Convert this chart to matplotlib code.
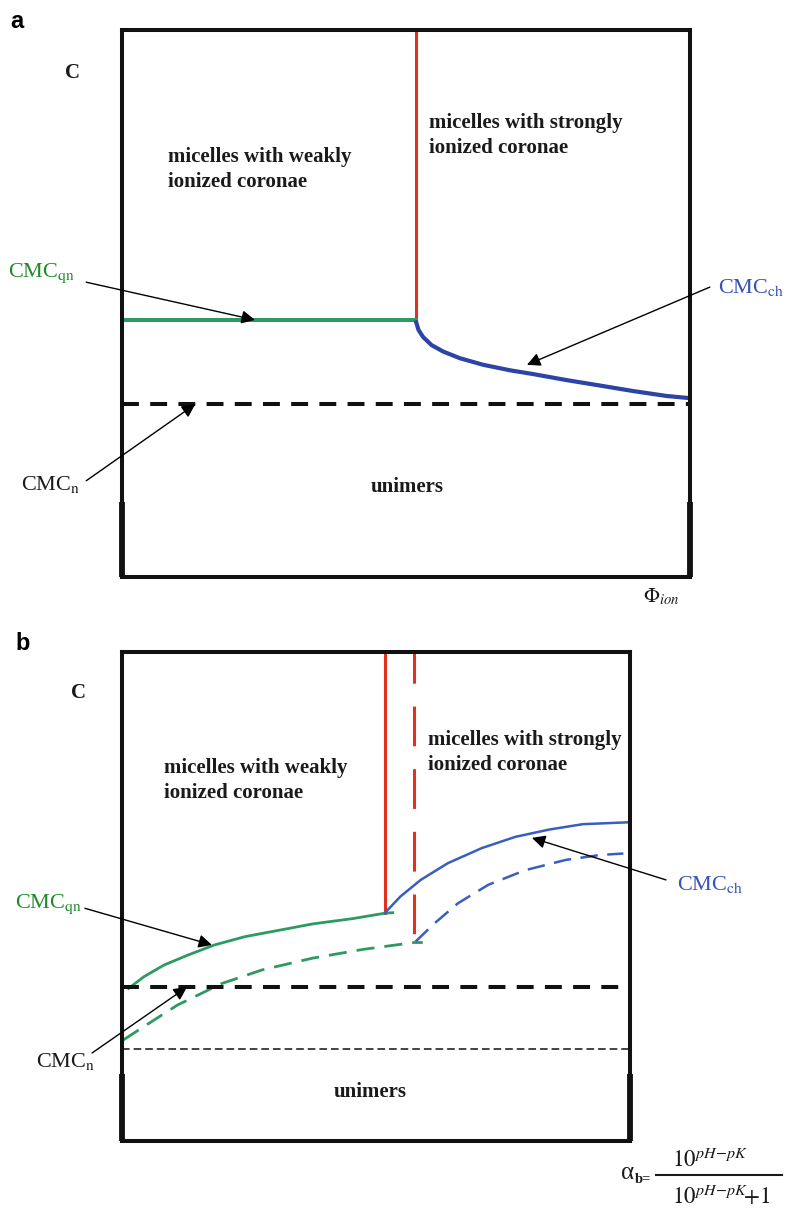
import matplotlib
matplotlib.use('Agg')
import matplotlib.pyplot as plt
from matplotlib.lines import Line2D

plt.rcParams['font.family'] = ['Liberation Serif', 'DejaVu Serif']
plt.rcParams['mathtext.fontset'] = 'stix'

# ---- data (fractions of the box: x = Phi_ion / alpha_b, y = C) ----
# panel a
a_boundary_x = 0.518
a_cmc_qn = 0.470
a_cmc_n = 0.316
a_ch_x = [0.517, 0.522, 0.530, 0.545, 0.566, 0.595, 0.636, 0.683, 0.724, 0.783, 0.842, 0.900, 0.959, 1.0]
a_ch_y = [0.469, 0.452, 0.439, 0.424, 0.412, 0.400, 0.388, 0.378, 0.371, 0.360, 0.350, 0.340, 0.331, 0.327]

# panel b
b_boundary_x = 0.518
b_boundary_dash_x = 0.575
b_qn_x = [0.013, 0.043, 0.083, 0.129, 0.182, 0.242, 0.309, 0.375, 0.455, 0.518, 0.533]
b_qn_y = [0.312, 0.336, 0.360, 0.380, 0.401, 0.418, 0.431, 0.444, 0.455, 0.466, 0.467]
b_qn2_x = [0.003, 0.043, 0.109, 0.196, 0.276, 0.375, 0.475, 0.575, 0.592]
b_qn2_y = [0.207, 0.234, 0.278, 0.322, 0.350, 0.374, 0.392, 0.406, 0.406]
b_ch_x = [0.518, 0.548, 0.588, 0.641, 0.708, 0.774, 0.841, 0.907, 1.0]
b_ch_y = [0.467, 0.500, 0.534, 0.568, 0.599, 0.622, 0.637, 0.648, 0.652]
b_ch2_x = [0.578, 0.615, 0.661, 0.721, 0.794, 0.874, 0.941, 0.987]
b_ch2_y = [0.408, 0.445, 0.486, 0.524, 0.554, 0.575, 0.585, 0.588]
b_cmc_n = 0.315
b_cmc_n2 = 0.188

RED = '#e0301e'
GREEN = '#2e9a62'
BLUE_A = '#2c44a6'
BLUE_B = '#3a5ec0'
GREEN_TXT = '#1f8a2a'
BLUE_TXT = '#3552b4'
INK = '#1a1a1a'

fig = plt.figure(figsize=(7.86, 12.10), dpi=100)
ax_a = fig.add_axes([0.1552, 0.5231, 0.7226, 0.4521])
ax_b = fig.add_axes([0.1552, 0.0570, 0.6463, 0.4041])

for ax in (ax_a, ax_b):
    ax.set_xlim(0, 1)
    ax.set_ylim(0, 1)
    ax.set_xticks([])
    ax.set_yticks([])
    for s in ax.spines.values():
        s.set_linewidth(2.9)
        s.set_color('#111111')
    # slightly thicker lower parts of the side walls
    ax.plot([0, 0], [0, 0.137], color='#111111', lw=4.2, clip_on=False, solid_capstyle='butt')
    ax.plot([1, 1], [0, 0.137], color='#111111', lw=4.2, clip_on=False, solid_capstyle='butt')

bold = dict(fontsize=15, fontweight='bold', color=INK)
arrow = dict(arrowstyle='-|>', color='black', lw=1.0, mutation_scale=20, shrinkA=0, shrinkB=0)

# ---------------- panel a ----------------
ax_a.plot([a_boundary_x, a_boundary_x], [a_cmc_qn, 1], color=RED, lw=2.2)
ax_a.plot([0, a_boundary_x], [a_cmc_qn, a_cmc_qn], color=GREEN, lw=2.9)
ax_a.plot(a_ch_x, a_ch_y, color=BLUE_A, lw=3.0, solid_capstyle='butt', solid_joinstyle='round')
ax_a.plot([0, 1], [a_cmc_n, a_cmc_n], color='#111111', lw=2.9, dashes=(4.2, 2.8))

ax_a.text(0.081, 0.786, 'micelles with weakly\nionized coronae', va='top', ha='left',
          linespacing=1.32, **bold)
ax_a.text(0.540, 0.848, 'micelles with strongly\nionized coronae', va='top', ha='left',
          linespacing=1.32, **bold)
ax_a.text(0.502, 0.165, 'unimers', ha='center', va='center', **bold)

ax_a.text(-0.201, 0.548, r'CMC$_{\mathrm{qn}}$', color=GREEN_TXT, fontsize=16, va='baseline')
ax_a.text(1.049, 0.519, r'CMC$_{\mathrm{ch}}$', color=BLUE_TXT, fontsize=16, va='baseline')
ax_a.text(-0.178, 0.159, r'CMC$_{\mathrm{n}}$', color=INK, fontsize=16, va='baseline')
ax_a.text(0.917, -0.046, r'$\Phi_{ion}$', color=INK, fontsize=15, va='baseline')

ax_a.annotate('', xy=(0.234, 0.470), xytext=(-0.063, 0.539), arrowprops=arrow, annotation_clip=False)
ax_a.annotate('', xy=(0.713, 0.388), xytext=(1.035, 0.530), arrowprops=arrow, annotation_clip=False)
ax_a.annotate('', xy=(0.129, 0.316), xytext=(-0.063, 0.176), arrowprops=arrow, annotation_clip=False)

# ---------------- panel b ----------------
ax_b.plot([b_boundary_x, b_boundary_x], [b_ch_y[0], 1], color=RED, lw=2.2)
ax_b.plot([b_boundary_dash_x, b_boundary_dash_x], [1, b_ch2_y[0]], color=RED, lw=2.2,
          linestyle=(2.8, (13, 7.5)))
ax_b.plot(b_qn_x, b_qn_y, color=GREEN, lw=2.0)
ax_b.plot(b_qn2_x, b_qn2_y, color=GREEN, lw=2.0, dashes=(6.5, 3.6))
ax_b.plot(b_ch_x, b_ch_y, color=BLUE_B, lw=1.8)
ax_b.plot(b_ch2_x, b_ch2_y, color=BLUE_B, lw=1.8, dashes=(7, 3.8))
ax_b.plot([0, 1], [b_cmc_n, b_cmc_n], color='#111111', lw=2.9, dashes=(4.2, 2.8))
ax_b.plot([0, 1], [b_cmc_n2, b_cmc_n2], color='#111111', lw=1.1, dashes=(5, 2.6))

ax_b.text(0.083, 0.783, 'micelles with weakly\nionized coronae', va='top', ha='left',
          linespacing=1.32, **bold)
ax_b.text(0.602, 0.840, 'micelles with strongly\nionized coronae', va='top', ha='left',
          linespacing=1.32, **bold)
ax_b.text(0.488, 0.100, 'unimers', ha='center', va='center', **bold)

ax_b.text(-0.211, 0.476, r'CMC$_{\mathrm{qn}}$', color=GREEN_TXT, fontsize=16, va='baseline')
ax_b.text(1.093, 0.513, r'CMC$_{\mathrm{ch}}$', color=BLUE_TXT, fontsize=16, va='baseline')
ax_b.text(-0.169, 0.151, r'CMC$_{\mathrm{n}}$', color=INK, fontsize=16, va='baseline')

ax_b.annotate('', xy=(0.177, 0.401), xytext=(-0.073, 0.476), arrowprops=arrow, annotation_clip=False)
ax_b.annotate('', xy=(0.128, 0.315), xytext=(-0.059, 0.180), arrowprops=arrow, annotation_clip=False)
ax_b.annotate('', xy=(0.807, 0.620), xytext=(1.071, 0.534), arrowprops=arrow, annotation_clip=False)

# ---------------- figure labels ----------------
W, H = 786, 1210
fig.text(10 / W, 1 - 28 / H, 'a', family='Liberation Sans', fontweight='bold', fontsize=17)
fig.text(15 / W, 1 - 650 / H, 'b', family='Liberation Sans', fontweight='bold', fontsize=17)
fig.text(73 / W, 1 - 73 / H, 'C', ha='center', va='center', **bold)
fig.text(78 / W, 1 - 693 / H, 'C', ha='center', va='center', **bold)

# alpha_b = 10^(pH-pK) / (10^(pH-pK) + 1)
fig.text(621 / W, 1 - 1179 / H, '\u03b1', fontsize=18, color=INK, va='baseline')
fig.text(635 / W, 1 - 1183 / H, 'b=', fontsize=10.5, fontweight='bold', color=INK, va='baseline')
fig.add_artist(Line2D([656 / W, 782 / W], [1 - 1175 / H, 1 - 1175 / H], color=INK, lw=1.5))
fig.text(672 / W, 1 - 1167 / H, r'$10^{pH\!-\!pK}$', fontsize=16.5, color=INK, va='baseline')
fig.text(672 / W, 1 - 1204 / H, r'$10^{pH\!-\!pK}\!{+}1$', fontsize=16.5, color=INK, va='baseline')

fig.savefig('out.png', dpi=100)
